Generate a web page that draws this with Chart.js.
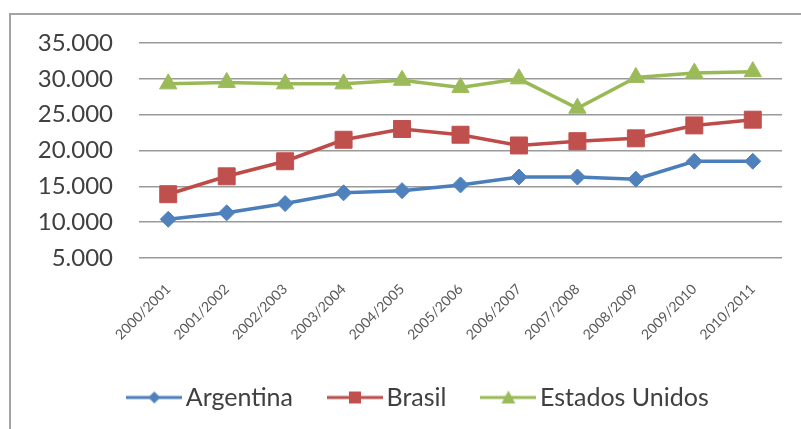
<!DOCTYPE html>
<html>
<head>
<meta charset="utf-8">
<script src="https://cdn.jsdelivr.net/npm/chart.js@4"></script>
<style>
  html, body { margin: 0; padding: 0; background: #fff; }
  #wrap { position: relative; width: 801px; height: 429px; overflow: hidden; }
  #frame { position: absolute; left: 9px; top: 13px; width: 820px; height: 440px;
           border-left: 2px solid #a3a3a3; border-top: 2px solid #a3a3a3; box-sizing: border-box; }
  canvas { position: absolute; left: 0; top: 0; }
</style>
</head>
<body>
<div id="wrap">
  <div id="frame"></div>
  <canvas id="c" width="801" height="429"></canvas>
</div>
<script>
const categories = ["2000/2001","2001/2002","2002/2003","2003/2004","2004/2005","2005/2006","2006/2007","2007/2008","2008/2009","2009/2010","2010/2011"];
const argentina = [10400, 11300, 12600, 14100, 14400, 15200, 16300, 16300, 16000, 18500, 18500];
const brasil = [13900, 16400, 18500, 21500, 23000, 22200, 20700, 21300, 21700, 23500, 24300];
const estadosUnidos = [29300, 29500, 29300, 29300, 29800, 28800, 30000, 25900, 30200, 30800, 31000];
const seriesNames = ["Argentina", "Brasil", "Estados Unidos"];
const yMin = 5000, yMax = 35000, yStep = 5000;

function fmt(v) { return String(v).replace(/\B(?=(\d{3})+(?!\d))/g, '.'); }

const lineColors = ['#4A7EBB', '#BE4B48', '#98B954'];
const markColors = ['#4F81BD', '#C0504D', '#9BBB59'];
const styles = ['rectRot', 'rect', 'triangle'];

function legendIcon(i) {
  const cv = document.createElement('canvas');
  cv.width = 56; cv.height = 20;
  const g = cv.getContext('2d');
  g.strokeStyle = lineColors[i]; g.lineWidth = 3;
  g.beginPath(); g.moveTo(0, 10); g.lineTo(56, 10); g.stroke();
  g.fillStyle = markColors[i];
  g.beginPath();
  if (i === 0) { g.moveTo(28, 4); g.lineTo(34, 10); g.lineTo(28, 16); g.lineTo(22, 10); }
  else if (i === 1) { g.rect(22, 4, 12, 12); }
  else { g.moveTo(28, 3); g.lineTo(35, 16); g.lineTo(21, 16); }
  g.closePath(); g.fill();
  return cv;
}
const icons = [legendIcon(0), legendIcon(1), legendIcon(2)];

const legendShift = 13;
const shiftLegend = {
  id: 'shiftLegend',
  beforeDraw(chart) {
    if (chart.legend && !chart.legend._shifted) {
      chart.legend.left += legendShift;
      chart.legend.right += legendShift;
      chart.legend._shifted = true;
    }
  },
  afterLayout(chart) { if (chart.legend) chart.legend._shifted = false; }
};

const datasets = [argentina, brasil, estadosUnidos].map((d, i) => ({
  label: seriesNames[i],
  data: d,
  borderColor: lineColors[i],
  backgroundColor: markColors[i],
  pointBackgroundColor: markColors[i],
  pointBorderColor: markColors[i],
  pointBorderWidth: 1,
  borderWidth: 3.5,
  pointStyle: styles[i],
  pointRadius: [8, 12, 10][i],
  tension: 0
}));

new Chart(document.getElementById('c'), {
  type: 'line',
  data: { labels: categories, datasets },
  plugins: [shiftLegend],
  options: {
    responsive: false,
    animation: false,
    layout: { padding: { left: 36, right: 19, top: 43, bottom: 9 } },
    plugins: {
      tooltip: { enabled: false },
      legend: {
        position: 'bottom',
        labels: {
          usePointStyle: true,
          pointStyleWidth: 38,
          padding: 43,
          color: '#404040',
          font: { family: 'Lato', size: 25 },
          generateLabels(chart) {
            const items = Chart.defaults.plugins.legend.labels.generateLabels(chart);
            items.forEach((it, i) => { it.pointStyle = icons[i]; it.fontColor = '#404040'; });
            return items;
          }
        }
      }
    },
    scales: {
      x: {
        offset: true,
        grid: { display: false, drawTicks: false },
        border: { display: false },
        ticks: {
          autoSkip: false, minRotation: 45, maxRotation: 45, padding: 23,
          color: '#595959', font: { family: 'Lato', size: 14 }
        },
        afterFit(s) { s.height = 84; }
      },
      y: {
        min: yMin, max: yMax,
        border: { display: false },
        grid: { color: '#9a9a9a', lineWidth: 1.5, drawTicks: false },
        ticks: {
          stepSize: yStep, padding: 26, color: '#404040',
          font: { family: 'Lato', size: 24 },
          callback: (v) => fmt(v)
        },
        afterFit(s) { s.width = 103; }
      }
    }
  }
});
</script>
</body>
</html>
